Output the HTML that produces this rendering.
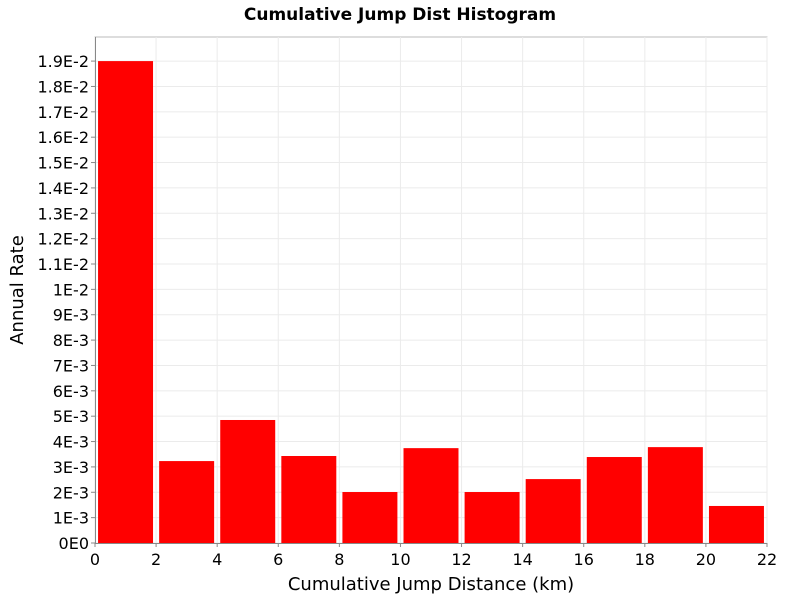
<!DOCTYPE html>
<html><head><meta charset="utf-8"><style>
body{margin:0;background:#fff;font-family:"DejaVu Sans","Liberation Sans",sans-serif;}
svg text{font-family:"DejaVu Sans","Liberation Sans",sans-serif;}
</style></head><body>
<svg id="chart" width="800" height="600" xmlns="http://www.w3.org/2000/svg">
<text x="400" y="20" text-anchor="middle" font-size="17" font-weight="bold">Cumulative Jump Dist Histogram</text>
<g id="grid"></g><g id="bars"></g><g id="axes"></g>
<text x="431" y="590" text-anchor="middle" font-size="18">Cumulative Jump Distance (km)</text>
<text transform="translate(23,290) rotate(-90)" text-anchor="middle" font-size="18">Annual Rate</text>
</svg>
<script>
const binStarts=[0,2,4,6,8,10,12,14,16,18,20];
const binWidth=2;
const rates=[0.019,0.00323,0.00485,0.00343,0.00201,0.00374,0.00201,0.00252,0.00339,0.00378,0.00146];
const xTicks=[0,2,4,6,8,10,12,14,16,18,20,22];
const yTickLabels=["0E0","1E-3","2E-3","3E-3","4E-3","5E-3","6E-3","7E-3","8E-3","9E-3","1E-2","1.1E-2","1.2E-2","1.3E-2","1.4E-2","1.5E-2","1.6E-2","1.7E-2","1.8E-2","1.9E-2"];
const yTickValues=[0,0.001,0.002,0.003,0.004,0.005,0.006,0.007,0.008,0.009,0.01,0.011,0.012,0.013,0.014,0.015,0.016,0.017,0.018,0.019];
const L=95,R=767,T=37,B=543,xMax=22,yMax=0.01995;
const X=v=>L+(v/xMax)*(R-L);
const Y=v=>B-(v/yMax)*(B-T);
const NS="http://www.w3.org/2000/svg";
function mk(tag,parent,attrs){const e=document.createElementNS(NS,tag);for(const k in attrs)e.setAttribute(k,attrs[k]);parent.appendChild(e);return e;}
const grid=document.getElementById('grid'),bars=document.getElementById('bars'),axes=document.getElementById('axes');
const bg=mk('rect',grid,{x:L,y:T,width:R-L,height:B-T,fill:'#fff',stroke:'#bbb'});


xTicks.forEach(t=>{
 const g=mk('line',grid,{x1:X(t),x2:X(t),y1:T,y2:B,stroke:'#ebebeb'});
 
 
 const tk=mk('line',axes,{x1:X(t),x2:X(t),y1:B,y2:B+4,stroke:'#888'});
 
 
 const tx=mk('text',axes,{x:X(t),y:B+22,'text-anchor':'middle','font-size':'16'});
 tx.textContent=t;
 
 
});
yTickValues.forEach((v,i)=>{
 const g=mk('line',grid,{x1:L,x2:R,y1:Y(v),y2:Y(v),stroke:'#ebebeb'});
 
 
 const tk=mk('line',axes,{x1:L-4,x2:L,y1:Y(v),y2:Y(v),stroke:'#888'});
 
 
 const tx=mk('text',axes,{x:L-6,y:Y(v)+6,'text-anchor':'end','font-size':'16'});
 tx.textContent=yTickLabels[i];
 
 
});
binStarts.forEach((s,i)=>{
 const x0=X(s+0.1),x1=X(s+binWidth-0.1);
 const b=mk('rect',bars,{x:x0,y:Y(rates[i]),width:x1-x0,height:B-Y(rates[i]),fill:'#ff0000'});
 
 
});
const ax=mk('line',axes,{x1:L,x2:R,y1:B+0.5,y2:B+0.5,stroke:'#888'});


const ay=mk('line',axes,{x1:L+0.5,x2:L+0.5,y1:T,y2:B,stroke:'#888'});


</script>
</body></html>
